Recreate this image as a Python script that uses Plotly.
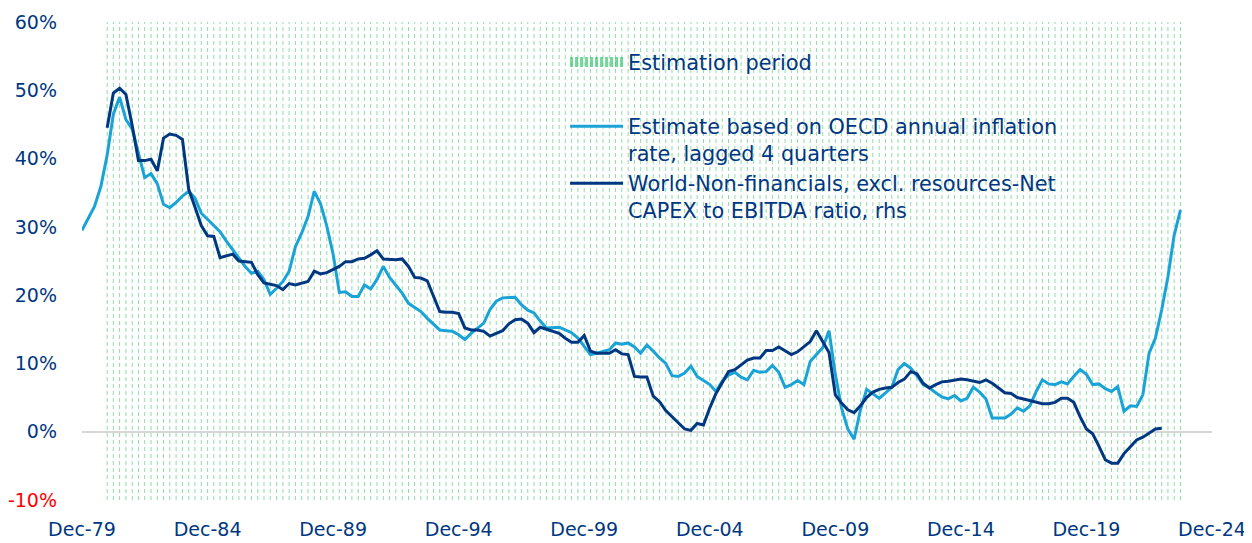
import plotly.graph_objects as go
import pandas as pd

# ---------------- data (quarterly, %) ----------------
light_name = "Estimate based on OECD annual inflation<br>rate, lagged 4 quarters"
dark_name = "World-Non-financials, excl. resources-Net<br>CAPEX to EBITDA ratio, rhs"
hatch_name = "Estimation period"

light_start = "1979Q4"
light_values = [
    29.5, 31.2, 33.0, 35.9, 40.5, 46.5, 49.0, 45.7, 44.3, 40.8,
    37.2, 37.8, 36.3, 33.3, 32.8, 33.6, 34.5, 35.2, 34.2, 32.0,
    31.1, 30.3, 29.3, 27.9, 26.6, 25.4, 24.2, 23.2, 23.5, 22.3,
    20.1, 21.0, 22.0, 23.5, 27.1, 29.1, 31.5, 35.2, 33.4, 30.1,
    26.0, 20.4, 20.5, 19.8, 19.8, 21.5, 20.9, 22.3, 24.2, 22.6,
    21.5, 20.3, 18.8, 18.2, 17.6, 16.6, 15.7, 14.9, 14.8, 14.7,
    14.2, 13.5, 14.4, 15.2, 15.9, 17.9, 19.1, 19.6, 19.7, 19.7,
    18.6, 17.8, 17.4, 16.2, 15.2, 15.3, 15.3, 14.9, 14.5, 13.7,
    12.4, 11.3, 11.5, 11.8, 12.0, 13.0, 12.8, 13.0, 12.4, 11.5,
    12.7, 11.8, 10.8, 10.0, 8.2, 8.1, 8.6, 9.6, 8.1, 7.5,
    6.9, 5.9, 7.4, 8.3, 8.7, 8.0, 7.6, 9.0, 8.7, 8.8,
    9.7, 8.7, 6.5, 6.9, 7.5, 6.9, 10.3, 11.3, 12.3, 14.8,
    8.4, 3.5, 0.4, -1.1, 3.2, 6.2, 5.6, 4.9, 5.7, 6.5,
    9.1, 10.0, 9.3, 8.2, 6.9, 6.4, 5.7, 5.1, 4.8, 5.3,
    4.5, 4.9, 6.5, 5.8, 4.8, 2.0, 2.0, 2.0, 2.6, 3.5,
    3.0, 3.8, 5.9, 7.6, 7.0, 6.9, 7.3, 7.0, 8.1, 9.1,
    8.4, 6.9, 7.0, 6.3, 5.9, 6.6, 3.0, 3.8, 3.7, 5.4,
    11.5, 13.7, 17.9, 22.7, 28.8, 32.5,
]

dark_start = "1980Q4"
dark_values = [
    44.5, 49.6, 50.3, 49.4, 44.8, 39.7, 39.7, 39.9, 38.2, 43.0,
    43.6, 43.4, 42.8, 35.5, 32.9, 30.2, 28.7, 28.6, 25.5, 25.8,
    26.0, 25.0, 24.9, 24.8, 23.0, 21.8, 21.6, 21.4, 20.8, 21.7,
    21.5, 21.8, 22.0, 23.5, 23.1, 23.3, 23.7, 24.2, 24.9, 24.9,
    25.3, 25.4, 25.9, 26.5, 25.3, 25.2, 25.2, 25.3, 24.2, 22.6,
    22.5, 22.1, 19.8, 17.6, 17.5, 17.5, 17.3, 15.2, 14.9, 14.9,
    14.7, 14.0, 14.4, 14.8, 15.8, 16.4, 16.5, 15.9, 14.5, 15.3,
    15.0, 14.7, 14.4, 13.7, 13.1, 13.1, 14.1, 11.8, 11.5, 11.5,
    11.5, 12.0, 11.4, 11.3, 8.1, 8.0, 8.0, 5.2, 4.4, 3.1,
    2.2, 1.3, 0.4, 0.2, 1.2, 1.0, 3.5, 5.6, 7.1, 8.8,
    9.1, 9.8, 10.5, 10.8, 10.8, 11.9, 11.9, 12.4, 11.8, 11.3,
    11.7, 12.4, 13.2, 14.8, 13.1, 11.6, 5.4, 4.2, 3.2, 2.8,
    3.8, 5.0, 5.8, 6.2, 6.4, 6.5, 7.2, 7.7, 8.8, 8.5,
    7.1, 6.4, 6.9, 7.3, 7.4, 7.5, 7.7, 7.6, 7.4, 7.2,
    7.6, 7.1, 6.4, 5.7, 5.6, 5.0, 4.8, 4.6, 4.3, 4.1,
    4.1, 4.3, 4.9, 4.9, 4.3, 2.2, 0.4, -0.3, -2.1, -4.1,
    -4.6, -4.6, -3.2, -2.2, -1.2, -0.8, -0.2, 0.4, 0.5,
]

estimation_start = "1980Q4"
estimation_end = "2023Q3"

tick_years = [1979, 1984, 1989, 1994, 1999, 2004, 2009, 2014, 2019, 2024]
tick_labels = ["Dec-79", "Dec-84", "Dec-89", "Dec-94", "Dec-99",
               "Dec-04", "Dec-09", "Dec-14", "Dec-19", "Dec-24"]
y_ticks = [-10, 0, 10, 20, 30, 40, 50, 60]
y_labels = ['<span style="color:#ff0000">-10%</span>', "0%", "10%", "20%",
            "30%", "40%", "50%", "60%"]

# ---------------- helpers ----------------
def quarter_ends(start, n=None, end=None):
    if end is not None:
        pr = pd.period_range(start=start, end=end, freq="Q-DEC")
    else:
        pr = pd.period_range(start=start, periods=n, freq="Q-DEC")
    return [p.to_timestamp(how="end").normalize() for p in pr]

light_x = quarter_ends(light_start, len(light_values))
dark_x = quarter_ends(dark_start, len(dark_values))
hatch_dates = quarter_ends(estimation_start, end=estimation_end)

Y_MIN, Y_MAX = -10, 60
hx, hy = [], []
for d in hatch_dates:
    hx += [d, d, None]
    hy += [Y_MIN, Y_MAX, None]

NAVY = "#003781"
LIGHT = "#1aa3d6"
GREEN = "rgba(70,195,120,0.6)"
FONT = "DejaVu Sans"

fig = go.Figure()

fig.add_trace(go.Scatter(
    x=hx, y=hy, mode="lines", showlegend=False, hoverinfo="skip",
    line=dict(color=GREEN, width=1, dash="4px,3px"),
))
fig.add_trace(go.Scatter(
    x=[None], y=[None], mode="lines", name=hatch_name, legendgroup="a",
    line=dict(color="rgba(70,200,120,0.75)", width=10, dash="3px,2px"),
))
fig.add_trace(go.Scatter(
    x=light_x, y=light_values, mode="lines", name=light_name, legendgroup="b",
    line=dict(color=LIGHT, width=3),
))
fig.add_trace(go.Scatter(
    x=dark_x, y=dark_values, mode="lines", name=dark_name, legendgroup="b",
    line=dict(color=NAVY, width=3),
))

# page body has an 8px default margin, so the figure is sized/offset to match
fig.update_layout(
    width=1244, height=535,
    margin=dict(l=74, r=40, t=14, b=43, autoexpand=False),
    paper_bgcolor="white", plot_bgcolor="white",
    font=dict(family=FONT, color=NAVY, size=19),
    legend=dict(
        x=0.4275, y=0.958, xanchor="left", yanchor="top",
        bgcolor="rgba(0,0,0,0)", font=dict(family=FONT, size=20.8, color=NAVY),
        traceorder="grouped", tracegroupgap=34, itemwidth=53, valign="top",
    ),
    xaxis=dict(
        type="date", automargin=False,
        range=[pd.Timestamp("1979-12-31"), pd.Timestamp("2024-12-31")],
        tickvals=[pd.Timestamp(f"{y}-12-31") for y in tick_years],
        ticktext=tick_labels,
        showgrid=False, zeroline=False, showline=False, ticks="",
        tickfont=dict(family=FONT, size=19, color=NAVY),
        ticklabelstandoff=16,
    ),
    yaxis=dict(
        range=[Y_MIN, Y_MAX], automargin=False,
        tickvals=y_ticks, ticktext=y_labels,
        showgrid=False, zeroline=True, zerolinecolor="#d6d6d6", zerolinewidth=2,
        showline=False, ticks="",
        tickfont=dict(family=FONT, size=19, color=NAVY),
        ticklabelstandoff=24,
    ),
)

fig.write_html("out.html")
